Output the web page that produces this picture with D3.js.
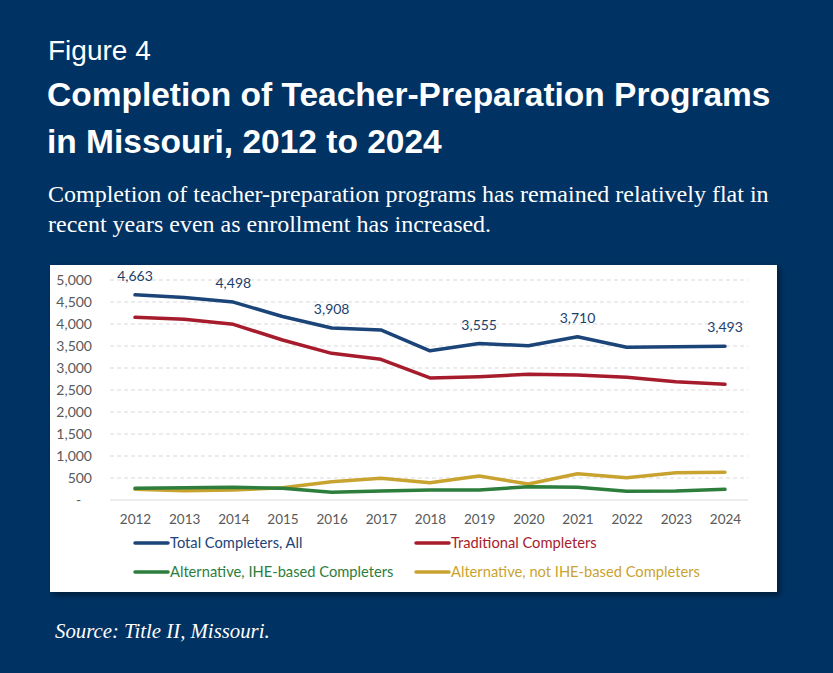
<!DOCTYPE html>
<html>
<head>
<meta charset="utf-8">
<script src="https://cdn.jsdelivr.net/npm/d3@7"></script>
<style>
  html, body { margin: 0; padding: 0; background: #003263; }
  svg { display: block; }
</style>
</head>
<body>
<svg id="chart" width="833" height="673"></svg>
<script>
const years = [2012, 2013, 2014, 2015, 2016, 2017, 2018, 2019, 2020, 2021, 2022, 2023, 2024];
const totalAll = [4663, 4600, 4498, 4170, 3908, 3865, 3390, 3555, 3505, 3710, 3470, 3485, 3493];
const traditional = [4152, 4106, 3992, 3636, 3333, 3197, 2773, 2803, 2856, 2841, 2788, 2689, 2629];
const altIHE = [265, 280, 288, 265, 174, 205, 227, 227, 303, 288, 197, 205, 242];
const altNotIHE = [242, 212, 227, 280, 417, 492, 394, 545, 364, 598, 508, 621, 629];
const labelledYears = [2012, 2014, 2016, 2019, 2021, 2024];
const yTicks = [0, 500, 1000, 1500, 2000, 2500, 3000, 3500, 4000, 4500, 5000];

const series = [
    { name: "Total Completers, All", values: totalAll, color: "#1b4478" },
    { name: "Traditional Completers", values: traditional, color: "#a61c2d" },
    { name: "Alternative, IHE-based Completers", values: altIHE, color: "#2d7d3c" },
    { name: "Alternative, not IHE-based Completers", values: altNotIHE, color: "#c9a330" }
];

const svg = d3.select("#chart");
const chartFont = "Lato, 'Open Sans', sans-serif";

// header
svg.append("text")
    .attr("x", 48).attr("y", 60)
    .attr("fill", "#fff")
    .style("font-family", "'Liberation Sans', Arial, sans-serif")
    .style("font-size", "28px")
    .text("Figure 4");

const titleLines = ["Completion of Teacher-Preparation Programs", "in Missouri, 2012 to 2024"];
svg.selectAll(".title")
    .data(titleLines)
    .enter().append("text")
    .attr("class", "title")
    .attr("x", 47)
    .attr("y", (d, i) => 106 + i * 47)
    .attr("fill", "#fff")
    .style("font-family", "'Liberation Sans', Arial, sans-serif")
    .style("font-weight", "bold")
    .style("font-size", "33.5px")
    .text(d => d);

const subLines = ["Completion of teacher-preparation programs has remained relatively flat in",
    "recent years even as enrollment has increased."];
svg.selectAll(".sub")
    .data(subLines)
    .enter().append("text")
    .attr("class", "sub")
    .attr("x", 48)
    .attr("y", (d, i) => 202 + i * 30)
    .attr("fill", "#fff")
    .style("font-family", "'Liberation Serif', 'Times New Roman', serif")
    .style("font-size", "24px")
    .text(d => d);

// chart panel with shadow
const defs = svg.append("defs");
const shadow = defs.append("filter").attr("id", "shadow")
    .attr("x", "-5%").attr("y", "-5%").attr("width", "115%").attr("height", "120%");
shadow.append("feDropShadow")
    .attr("dx", 3).attr("dy", 3).attr("stdDeviation", 3)
    .attr("flood-color", "#000").attr("flood-opacity", 0.45);

svg.append("rect")
    .attr("x", 50).attr("y", 265)
    .attr("width", 727).attr("height", 327)
    .attr("fill", "#fff")
    .attr("filter", "url(#shadow)");

const x = d3.scaleLinear()
    .domain([2012, 2024])
    .range([135, 725]);

const y = d3.scaleLinear()
    .domain([0, 5000])
    .range([500, 280]);

const gridLeft = 110, gridRight = 748;

// gridlines
svg.append("g")
    .selectAll("line")
    .data(yTicks)
    .enter().append("line")
    .attr("x1", gridLeft).attr("x2", gridRight)
    .attr("y1", d => y(d)).attr("y2", d => y(d))
    .attr("stroke", "#d9d9d9")
    .attr("stroke-width", 1)
    .attr("stroke-dasharray", d => d === 0 ? null : "4,3");

// y axis labels
const yAxis = d3.axisLeft(y)
    .tickValues(yTicks)
    .tickSize(0)
    .tickPadding(0)
    .tickFormat(d => d === 0 ? "-   " : d3.format(",")(d));

const yG = svg.append("g")
    .attr("transform", "translate(92,0)")
    .call(yAxis);
yG.select(".domain").remove();
yG.selectAll("text")
    .attr("fill", "#595959")
    .style("font-family", chartFont)
    .style("font-size", "14px")
    .style("white-space", "pre");

// x axis labels
const xAxis = d3.axisBottom(x)
    .tickValues(years)
    .tickSize(0)
    .tickPadding(14)
    .tickFormat(d3.format("d"));

const xG = svg.append("g")
    .attr("transform", "translate(0,500)")
    .call(xAxis);
xG.select(".domain").remove();
xG.selectAll("text")
    .attr("fill", "#595959")
    .style("font-family", chartFont)
    .style("font-size", "13.5px");

// lines
const line = d3.line()
    .x((d, i) => x(years[i]))
    .y(d => y(d));

svg.append("g")
    .selectAll("path")
    .data(series.slice().reverse())
    .enter().append("path")
    .attr("d", d => line(d.values))
    .attr("fill", "none")
    .attr("stroke", d => d.color)
    .attr("stroke-width", 3.5)
    .attr("stroke-linejoin", "round")
    .attr("stroke-linecap", "round");

// data labels on total
svg.append("g")
    .selectAll("text")
    .data(labelledYears)
    .enter().append("text")
    .attr("x", d => x(d))
    .attr("y", d => y(totalAll[years.indexOf(d)]) - 14)
    .attr("text-anchor", "middle")
    .attr("fill", "#1b3f6e")
    .style("font-family", chartFont)
    .style("font-size", "14px")
    .text(d => d3.format(",")(totalAll[years.indexOf(d)]));

// legend
const legendX = [135, 416];
const legendY = [543, 572];
const legend = svg.append("g")
    .selectAll("g")
    .data(series)
    .enter().append("g")
    .attr("transform", (d, i) => `translate(${legendX[i % 2]},${legendY[Math.floor(i / 2)]})`);

legend.append("line")
    .attr("x1", 0).attr("x2", 33)
    .attr("stroke", d => d.color)
    .attr("stroke-width", 3.5)
    .attr("stroke-linecap", "round");

legend.append("text")
    .attr("x", 35)
    .attr("y", 5)
    .attr("fill", d => d.color)
    .style("font-family", chartFont)
    .style("font-size", "14.7px")
    .text(d => d.name);

// source
svg.append("text")
    .attr("x", 55).attr("y", 638)
    .attr("fill", "#fff")
    .style("font-family", "'Liberation Serif', 'Times New Roman', serif")
    .style("font-style", "italic")
    .style("font-size", "20.8px")
    .text("Source: Title II, Missouri.");
</script>
</body>
</html>
